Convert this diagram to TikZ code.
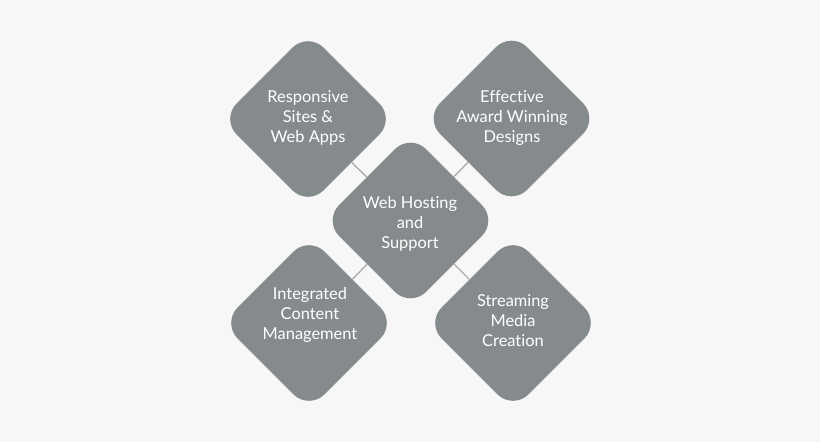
\documentclass[tikz,border=0pt]{standalone}
\usepackage{fontspec}
\setmainfont{Lato}[Ligatures={NoCommon,NoRare}]
\usetikzlibrary{shapes.geometric}
\definecolor{bg}{HTML}{F7F7F7}
\definecolor{dia}{HTML}{858A8C}
\definecolor{conn}{HTML}{AEAEAE}
\tikzset{
  diabox/.style={diamond, aspect=1, minimum size=174pt, inner sep=0pt, fill=dia, rounded corners=22pt},
  lbl/.style={text=white, align=center, font=\fontsize{16.4pt}{20pt}\selectfont, inner sep=0pt},
  link/.style={draw=conn, line width=1.4pt}
}
\begin{document}
\begin{tikzpicture}[x=1pt,y=-1pt]
\fill[bg] (0,0) rectangle (820,442);
\useasboundingbox (0,0) rectangle (820,442);
\node[diabox] (tl) at (308,119) {};
\node[diabox] (tr) at (511.5,118.5) {};
\node[diabox] (c) at (410.5,220.5) {};
\node[diabox] (bl) at (309,323) {};
\node[diabox] (br) at (513,323) {};
\draw[link] (tl) -- (c);
\draw[link] (tr) -- (c);
\draw[link] (bl) -- (c);
\draw[link] (br) -- (c);
\node[lbl] (tlt) at (308,118) {Responsive\\Sites \&\\Web Apps};
\node[lbl] (trt) at (512,118) {Effective\\Award Winning\\Designs};
\node[lbl] (ct) at (410,224) {Web Hosting\\and\\Support};
\node[lbl] (blt) at (310,315) {Integrated\\Content\\Management};
\node[lbl] (brt) at (513,321) {Streaming\\Media\\Creation};
\end{tikzpicture}
\end{document}
